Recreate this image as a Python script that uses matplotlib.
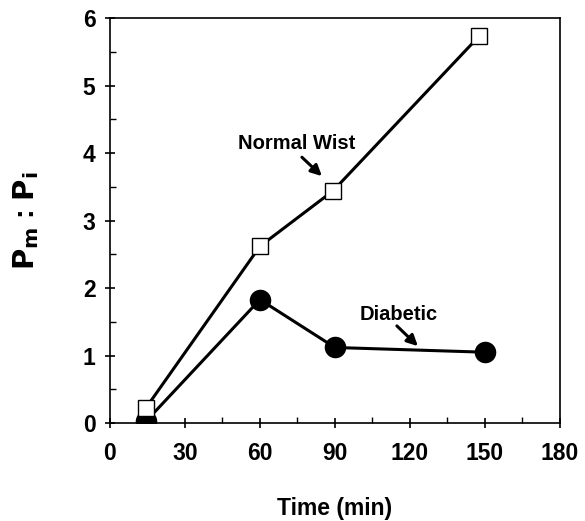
import numpy as np
import matplotlib.pyplot as plt
from matplotlib.ticker import MultipleLocator

plt.rcParams['font.family'] = ['Liberation Sans', 'DejaVu Sans']
plt.rcParams['font.weight'] = 'bold'

# data
time_normal = [14.5, 60, 89.2, 147.6]
ratio_normal = [0.23, 2.62, 3.44, 5.73]
time_diabetic = [14.5, 60, 90, 150]
ratio_diabetic = [0.03, 1.83, 1.12, 1.05]
x_ticks = [0, 30, 60, 90, 120, 150, 180]
y_ticks = [0, 1, 2, 3, 4, 5, 6]

fig = plt.figure(figsize=(5.85, 5.21), dpi=100)
ax = fig.add_axes([0.188, 0.188, 0.769, 0.777])

# diabetic line with filled circles
ax.plot(time_diabetic, ratio_diabetic, color='black', lw=2.2,
        marker='o', ms=14.5, mfc='black', mec='black', zorder=3)
# normal line with open squares
ax.plot(time_normal, ratio_normal, color='black', lw=2.2,
        marker='s', ms=12, mfc='white', mec='black', mew=1.0, zorder=4)

ax.set_xlim(0, 180)
ax.set_ylim(0, 6)
ax.set_xticks(x_ticks)
ax.set_yticks(y_ticks)
ax.xaxis.set_minor_locator(MultipleLocator(15))
ax.yaxis.set_minor_locator(MultipleLocator(0.5))
ax.tick_params(which='major', direction='inout', length=7, width=1.2, labelsize=16.5)
ax.tick_params(axis='x', which='major', pad=10)
ax.tick_params(axis='y', which='major', pad=7)
ax.tick_params(which='minor', direction='in', length=4, width=1)
for lab in ax.get_xticklabels() + ax.get_yticklabels():
    lab.set_fontweight('bold')
for s in ax.spines.values():
    s.set_linewidth(1.2)

ax.set_xlabel('Time (min)', fontsize=16.5, fontweight='bold', labelpad=23)
ax.set_ylabel(r'$\mathbf{P_m}$ : $\mathbf{P_i}$', fontsize=21, fontweight='bold', labelpad=30)

# annotations: text labels and arrows
ax.text(74.8, 4.15, 'Normal Wist', ha='center', va='center', fontsize=14.5, fontweight='bold')
ax.annotate('', xy=(84.8, 3.66), xytext=(76.8, 3.94),
            arrowprops=dict(arrowstyle='-|>', color='black', lw=2.2, mutation_scale=16,
                            shrinkA=0, shrinkB=0))
ax.text(115.4, 1.61, 'Diabetic', ha='center', va='center', fontsize=14.5, fontweight='bold')
ax.annotate('', xy=(123.2, 1.14), xytext=(114.8, 1.44),
            arrowprops=dict(arrowstyle='-|>', color='black', lw=2.2, mutation_scale=16,
                            shrinkA=0, shrinkB=0))

fig.savefig('out.png', dpi=100)
